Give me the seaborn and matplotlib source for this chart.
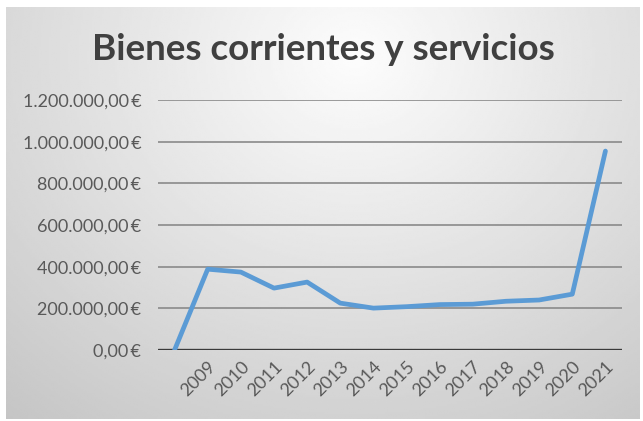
import matplotlib
matplotlib.use("Agg")
import matplotlib.pyplot as plt
import numpy as np
import seaborn as sns
from matplotlib.ticker import FuncFormatter

labels = ["", "2009", "2010", "2011", "2012", "2013", "2014", "2015",
          "2016", "2017", "2018", "2019", "2020", "2021"]
values = [0, 388000, 374000, 297000, 326000, 225000, 201000, 208000,
          218000, 220000, 234000, 240000, 268000, 955000]
y_ticks = [0, 200000, 400000, 600000, 800000, 1000000, 1200000]
title = "Bienes corrientes y servicios"


def euro(v, _pos=None):
    s = f"{v:,.2f}".replace(",", "X").replace(".", ",").replace("X", ".")
    return f"{s}\u2009€"


sns.set_style("white")
plt.rcParams["font.family"] = ["Lato", "DejaVu Sans"]

fig = plt.figure(figsize=(6.43, 4.21), dpi=100)
fig.patch.set_facecolor("white")

# chart area with Excel-like radial gray gradient
bg = fig.add_axes([6 / 643, 2 / 421, 634 / 643, 412 / 421])
yy, xx = np.mgrid[0:1:200j, 0:1:300j]
r = np.sqrt(((xx - 0.55) / 0.75) ** 2 + ((yy - 0.12) / 1.0) ** 2)
grad = np.clip(0.99 - 0.19 * r, 0.76, 0.99)
bg.imshow(grad, cmap="gray", vmin=0, vmax=1, aspect="auto",
          extent=(0, 1, 1, 0), interpolation="bilinear")
bg.set_axis_off()

ax = fig.add_axes([158 / 643, 71 / 421, 464 / 643, 250 / 421])
ax.patch.set_alpha(0)
x = np.arange(len(labels))
sns.lineplot(x=x, y=values, ax=ax, color="#5B9BD5", linewidth=3.4,
             zorder=3, solid_capstyle="round")

ax.set_xlim(-0.5, len(labels) - 0.5)
ax.set_ylim(0, 1200000)
ax.set_yticks(y_ticks)
ax.yaxis.set_major_formatter(FuncFormatter(euro))
ax.set_xticks(x)
ax.set_xticklabels(labels, rotation=45, ha="right", rotation_mode="anchor")
for yv in y_ticks[1:]:
    ax.axhline(yv, color="#8a8a8a", linewidth=1.2, zorder=1)
ax.axhline(0, color="#3a3a3a", linewidth=2.4, zorder=2)
for s in ax.spines.values():
    s.set_visible(False)
ax.tick_params(axis="both", length=0, labelsize=13, colors="#595959")
ax.tick_params(axis="y", pad=12)
ax.tick_params(axis="x", pad=6)
ax.set_xlabel("")
ax.set_ylabel("")

fig.text(0.503, 0.882, title, ha="center", va="center", fontsize=26.5,
         fontweight="bold", color="#404040")

fig.savefig("out.png", dpi=100)
